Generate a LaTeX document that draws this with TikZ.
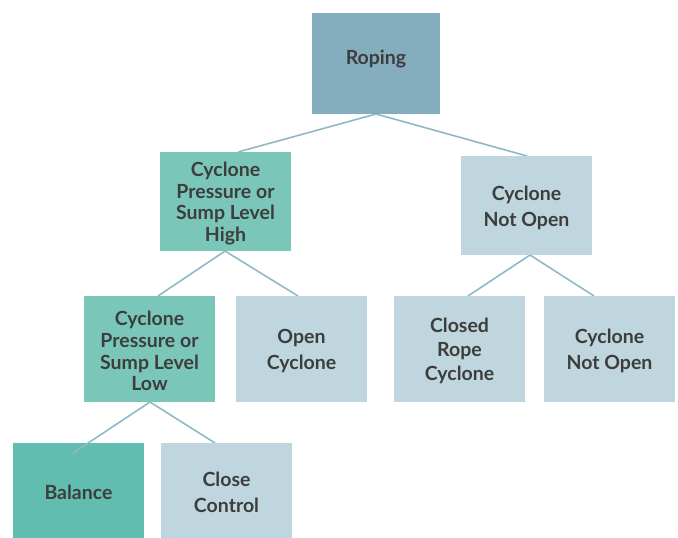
\documentclass[tikz,border=0pt]{standalone}
\usepackage{fontspec}
\setmainfont{Lato}
\definecolor{rootc}{HTML}{84ADBD}
\definecolor{tealc}{HTML}{7AC7BA}
\definecolor{darkteal}{HTML}{62BDB1}
\definecolor{lightc}{HTML}{BFD6DE}
\definecolor{linec}{HTML}{8FB9C8}
\definecolor{txtc}{HTML}{3D3D3D}
\begin{document}
\begin{tikzpicture}[x=1pt,y=-1pt,
  box/.style={draw=none,inner sep=0pt,text=txtc,align=center,
    font=\fontsize{19.5}{21.7}\selectfont\bfseries},
  two/.style={font=\fontsize{19.5}{26}\selectfont\bfseries},
  three/.style={font=\fontsize{19.5}{24}\selectfont\bfseries},
  conn/.style={draw=linec,line width=1.6pt}]
\useasboundingbox (0,0) rectangle (678,538);
\newcommand{\bx}[8]{%
  \fill[#6] (#2,#3) rectangle (#4,#5);
  \node[box,#8] (#1) at ({(#2+#4)/2},{(#3+#5)/2+2}) {#7};}
% connectors first
\coordinate (r) at (376,114);
\coordinate (hL) at (225,251);
\coordinate (nR) at (530,255);
\coordinate (lL) at (150,402);
\draw[conn] (r) -- (238,152);
\draw[conn] (r) -- (527,156);
\draw[conn] (hL) -- (158,296);
\draw[conn] (hL) -- (298,296);
\draw[conn] (nR) -- (468,296);
\draw[conn] (nR) -- (594,296);
\draw[conn] (lL) -- (215,443);
\fill[rootc] (312,13) rectangle (440,114);
\node[box] (roping) at (376,59) {Roping};
\bx{high}{160}{152}{291}{251}{tealc}{Cyclone\\Pressure or\\Sump Level\\High}{}
\bx{notopen}{461}{156}{592}{255}{lightc}{Cyclone\\Not Open}{two}
\bx{low}{84}{296}{215}{402}{tealc}{Cyclone\\Pressure or\\Sump Level\\Low}{}
\bx{open}{236}{296}{367}{402}{lightc}{Open\\Cyclone}{two}
\bx{closed}{394}{296}{525}{402}{lightc}{Closed\\Rope\\Cyclone}{three}
\bx{notopen2}{544}{296}{675}{402}{lightc}{Cyclone\\Not Open}{two}
\bx{balance}{13}{443}{144}{538}{darkteal}{Balance}{}
\bx{close}{161}{443}{292}{538}{lightc}{Close\\Control}{two}
\draw[conn] (lL) -- (73,453);
\end{tikzpicture}
\end{document}
